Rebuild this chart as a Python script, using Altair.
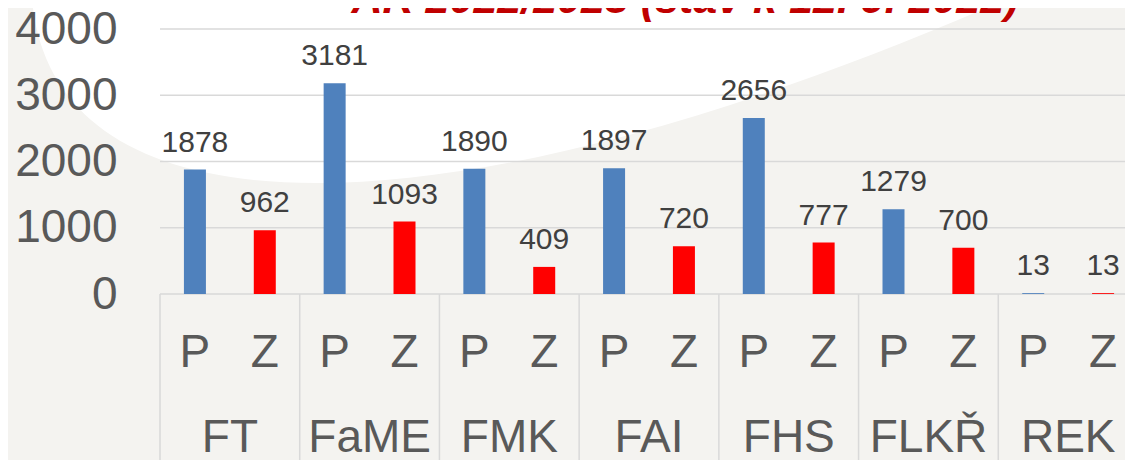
import altair as alt
import pandas as pd

# ---- data ----
faculties = ["FT", "FaME", "FMK", "FAI", "FHS", "FLKŘ", "REK"]
types = ["P", "Z"]
p_values = [1878, 3181, 1890, 1897, 2656, 1279, 13]
z_values = [962, 1093, 409, 720, 777, 700, 13]
y_ticks = [0, 1000, 2000, 3000, 4000]
title_text = "AR 2022/2023 (stav k 12. 9. 2022)"

# ---- tables built from the arrays ----
rows = []
for f, p, z in zip(faculties, p_values, z_values):
    rows.append({"fac": f, "typ": "P", "key": f + "_P", "value": p})
    rows.append({"fac": f, "typ": "Z", "key": f + "_Z", "value": z})
df = pd.DataFrame(rows)
keys = list(df["key"])
groups = pd.DataFrame({"fac": faculties, "key": [f + "_P" for f in faculties]})
grid = pd.DataFrame({"v": y_ticks})
one = pd.DataFrame({"t": [title_text]})

FONT = "Liberation Sans"
W, H = 978, 265

xscale = alt.Scale(domain=keys, paddingInner=0, paddingOuter=0)
yscale = alt.Scale(domain=[0, 4000], nice=False, zero=True)


# decorative white swoosh of the slide background: an ellipse drawn as a
# custom symbol, given by two conjugate semi-diameters (units of 100 px)
def ellipse_symbol(u, v):
    k = 0.5523
    def p(a, b):
        return f"{u[0]*a + v[0]*b:.3f},{u[1]*a + v[1]*b:.3f}"
    return (f"M{p(1,0)} C{p(1,k)} {p(k,1)} {p(0,1)} C{p(-k,1)} {p(-1,k)} {p(-1,0)} "
            f"C{p(-1,-k)} {p(-k,-1)} {p(0,-1)} C{p(k,-1)} {p(1,-k)} {p(1,0)} Z")


bg = alt.Chart(one).mark_point(
    shape=ellipse_symbol((8.43, 0.0), (-11.0, 10.0)), size=40000, filled=True,
    color="white", fill="white", opacity=1, strokeWidth=0
).encode(x=alt.value(1257), y=alt.value(-846))

gridlines = alt.Chart(grid).mark_rule(color="#d9d9d9", strokeWidth=1.5).encode(
    y=alt.Y("v:Q", scale=yscale,
            axis=alt.Axis(values=y_ticks, format="d", grid=False, domain=False,
                          ticks=False, labelFontSize=46, labelColor="#595959",
                          labelFont=FONT, labelPadding=43, title=None, zindex=1))
)

separators = alt.Chart(groups).mark_rule(color="#d9d9d9", strokeWidth=1.5).encode(
    x=alt.X("key:N", sort=keys, scale=xscale, bandPosition=0, axis=None),
    y=alt.value(H),
    y2=alt.value(H + 200),
)

bars = alt.Chart(df).mark_bar(width=22).encode(
    x=alt.X("key:N", sort=keys, scale=xscale, axis=None),
    y=alt.Y("value:Q", scale=yscale),
    color=alt.Color("typ:N", scale=alt.Scale(domain=types, range=["#4f81bd", "#ff0000"]),
                    legend=None),
)

value_labels = alt.Chart(df).mark_text(
    dy=-18, baseline="alphabetic", fontSize=30, color="#404040", font=FONT
).encode(
    x=alt.X("key:N", sort=keys, scale=xscale, axis=None),
    y=alt.Y("value:Q", scale=yscale),
    text=alt.Text("value:Q", format="d"),
)

type_labels = alt.Chart(df).mark_text(
    baseline="alphabetic", fontSize=46, color="#595959", font=FONT
).encode(
    x=alt.X("key:N", sort=keys, scale=xscale, axis=None),
    y=alt.value(H + 73),
    text="typ:N",
)

group_labels = alt.Chart(groups).mark_text(
    baseline="alphabetic", fontSize=46, color="#595959", font=FONT, dx=35
).encode(
    x=alt.X("key:N", sort=keys, scale=xscale, axis=None),
    y=alt.value(H + 158),
    text="fac:N",
)

title = alt.Chart(one).mark_text(
    baseline="alphabetic", align="center", fontSize=43, fontWeight="bold",
    fontStyle="italic", color="#c00000", font=FONT
).encode(x=alt.value(525), y=alt.value(-16), text="t:N")

chart = alt.layer(
    bg, gridlines, separators, bars, value_labels, type_labels, group_labels, title
).properties(
    width=W, height=H,
    autosize=alt.AutoSizeParams(type="none"),
    padding={"left": 152, "top": 21, "right": -13, "bottom": 166},
    background="#f4f3f0",
).configure_view(stroke=None)

chart.save("out.html", embed_options={"renderer": "svg", "actions": False})
